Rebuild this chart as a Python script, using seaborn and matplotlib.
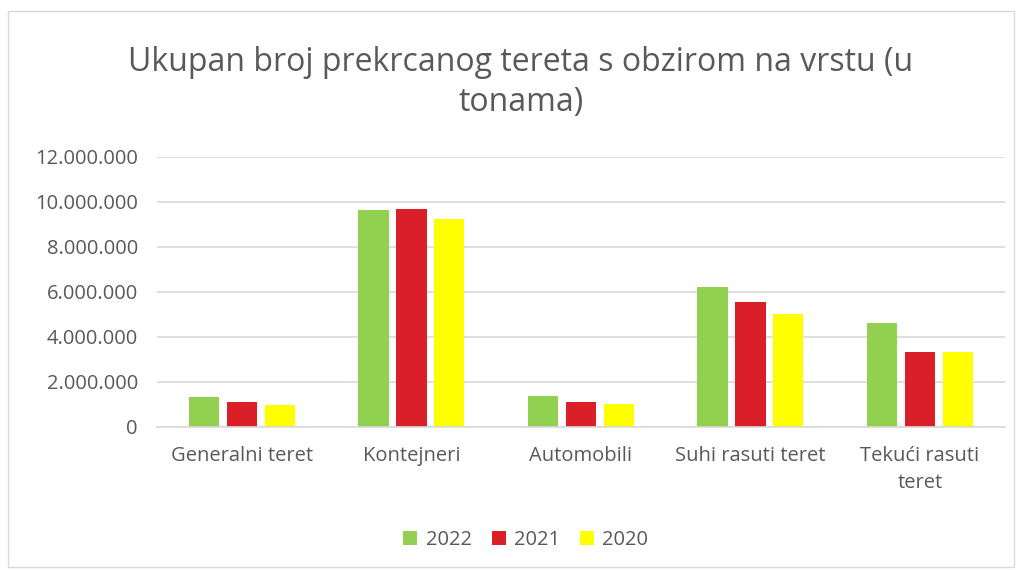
import matplotlib
matplotlib.use("Agg")
import matplotlib.pyplot as plt
import matplotlib.ticker as mticker
from matplotlib.patches import Rectangle
import pandas as pd
import seaborn as sns

# podaci (u tonama)
categories = ["Generalni teret", "Kontejneri", "Automobili", "Suhi rasuti teret", "Tekući rasuti\nteret"]
years = ["2022", "2021", "2020"]
t2022 = [1310000, 9650000, 1390000, 6230000, 4610000]
t2021 = [1130000, 9690000, 1090000, 5560000, 3340000]
t2020 = [960000, 9250000, 1000000, 5000000, 3330000]
colors = ["#92d050", "#da1f28", "#ffff00"]

rows = []
for year, vals in zip(years, [t2022, t2021, t2020]):
    for cat, v in zip(categories, vals):
        rows.append({"kategorija": cat, "godina": year, "tona": v})
df = pd.DataFrame(rows)

sns.set_theme(style="white")
plt.rcParams["font.family"] = ["Open Sans", "DejaVu Sans"]
txt = "#595959"

fig = plt.figure(figsize=(10.21, 5.70), dpi=100)
ax = fig.add_axes([0.154, 0.251, 0.830, 0.4737])

sns.barplot(data=df, x="kategorija", y="tona", hue="godina", order=categories,
            hue_order=years, palette=colors, saturation=1, width=0.67, gap=0.2,
            linewidth=0, ax=ax)

ax.set_ylim(0, 12000000)
ax.yaxis.set_major_locator(mticker.MultipleLocator(2000000))
ax.yaxis.set_major_formatter(mticker.FuncFormatter(lambda v, p: f"{int(v):,}".replace(",", ".")))
ax.grid(axis="y", color="#d9d9d9", linewidth=1.2)
ax.set_axisbelow(True)
for s in ["top", "right", "left"]:
    ax.spines[s].set_visible(False)
ax.spines["bottom"].set_color("#d9d9d9")
ax.spines["bottom"].set_linewidth(1.2)
ax.set_xlabel("")
ax.set_ylabel("")
ax.tick_params(axis="both", length=0, labelsize=14.5, colors=txt)
ax.tick_params(axis="x", pad=14)
ax.tick_params(axis="y", pad=14)
for lab in ax.get_xticklabels():
    lab.set_linespacing(1.45)

ax.legend(loc="center", bbox_to_anchor=(0.515, 0.052), bbox_transform=fig.transFigure,
          ncol=3, frameon=False, fontsize=14.5, handlelength=0.7, handleheight=0.7,
          columnspacing=1.0, handletextpad=0.4, labelcolor=txt)

fig.text(0.51, 0.855, "Ukupan broj prekrcanog tereta s obzirom na vrstu (u\ntonama)",
         ha="center", va="center", fontsize=23, color=txt, linespacing=1.3)

fig.patches.append(Rectangle((0.008, 0.005), 0.985, 0.975, transform=fig.transFigure,
                             fill=False, edgecolor="#d9d9d9", linewidth=1))

fig.savefig("out.png", dpi=100)
